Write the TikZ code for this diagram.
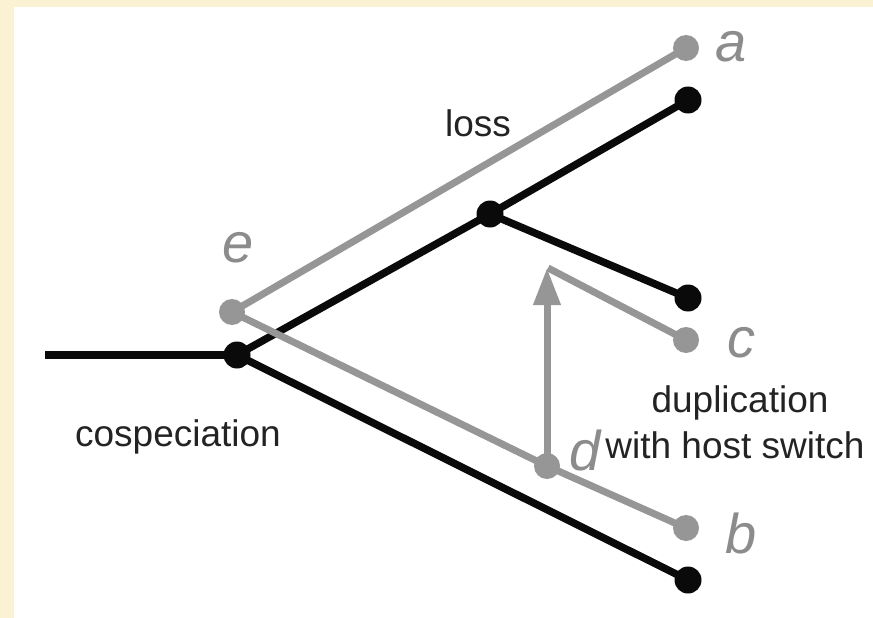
\documentclass[tikz,border=0pt]{standalone}
\usepackage{fontspec}
\setmainfont{Liberation Sans}
\usetikzlibrary{arrows.meta}
\definecolor{paper}{RGB}{251,242,212}
\definecolor{hostline}{RGB}{10,10,10}
\definecolor{parasite}{RGB}{150,150,150}
\definecolor{tagtext}{RGB}{140,140,140}
\definecolor{caption}{RGB}{35,35,35}
\tikzset{
  hostdot/.style={circle,fill=hostline,inner sep=0pt,minimum size=27pt},
  paradot/.style={circle,fill=parasite,inner sep=0pt,minimum size=26pt},
  hostedge/.style={draw=hostline,line width=7.5pt,line join=round},
  paraedge/.style={draw=parasite,line width=7pt,line join=round},
  tag/.style={text=tagtext,anchor=base,inner sep=0pt,font=\fontsize{56}{60}\selectfont\itshape},
  note/.style={text=caption,anchor=base,inner sep=0pt,font=\fontsize{37}{40}\selectfont}
}
\begin{document}
\begin{tikzpicture}[x=1pt,y=-1pt]
  % frame: cream margin on the left and top, white drawing area
  \fill[paper] (0,0) rectangle (873,618);
  \fill[white] (14,7) rectangle (873,618);
  \useasboundingbox (0,0) rectangle (873,618);

  % host tree nodes
  \coordinate (root) at (45,355);
  \node[hostdot] (cosp) at (237,355) {};
  \node[hostdot] (inner) at (490,214) {};
  \node[hostdot] (h1) at (688,100) {};
  \node[hostdot] (h2) at (688,298) {};
  \node[hostdot] (h3) at (688,580) {};

  % host tree edges
  \path[hostedge] (root) -- (cosp.center);
  \path[hostedge] (cosp.center) -- (inner.center) -- (h1.center);
  \path[hostedge] (inner.center) -- (h2.center);
  \path[hostedge] (cosp.center) -- (h3.center);

  % parasite tree edges
  \coordinate (turn) at (547,268);
  \node[paradot] (pe) at (232,312) {};
  \node[paradot] (pd) at (547,466) {};
  \node[paradot] (pa) at (686,48) {};
  \node[paradot] (pc) at (686,340) {};
  \node[paradot] (pb) at (686,528) {};
  \path[paraedge] (pa.center) -- (pe.center) -- (pd.center) -- (pb.center);
  \path[paraedge,-{Triangle[length=37pt,width=26pt]}] (pd.center) -- (turn);
  \path[paraedge] ([xshift=1pt]turn) -- (pc.center);

  % leaf and event tags
  \node[tag] (ta) at (731,62) {a};
  \node[tag] (tc) at (741,357) {c};
  \node[tag] (tb) at (741,553) {b};
  \node[tag] (td) at (585,470) {d};
  \node[tag] (te) at (238,262) {e};

  % event captions
  \node[note] (loss) at (478,136) {loss};
  \node[note] (cospec) at (178,446) {cospeciation};
  \node[note] (dup) at (740,412) {duplication};
  \node[note] (switch) at (735,458) {with host switch};
\end{tikzpicture}
\end{document}
